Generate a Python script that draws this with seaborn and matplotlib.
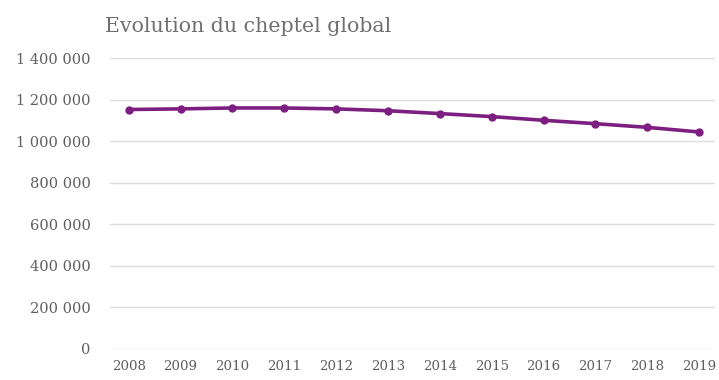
import matplotlib
matplotlib.use("Agg")
import matplotlib.pyplot as plt
import seaborn as sns
import pandas as pd
from matplotlib.ticker import FuncFormatter

years = [2008, 2009, 2010, 2011, 2012, 2013, 2014, 2015, 2016, 2017, 2018, 2019]
cheptel = [1152600, 1155600, 1160000, 1160000, 1155600, 1146700, 1133000,
           1118500, 1100700, 1084400, 1066700, 1044400]
title = "Evolution du cheptel global"

df = pd.DataFrame({"year": years, "cheptel": cheptel})

sns.set_theme(style="white")
plt.rcParams["font.family"] = ["DejaVu Serif", "Liberation Serif"]

fig = plt.figure(figsize=(7.19, 3.8), dpi=100)
ax = fig.add_axes([0.153, 0.0816, 0.841, 0.7655])

sns.lineplot(data=df, x="year", y="cheptel", ax=ax, color="#7d1f80",
             linewidth=2.6, marker="o", markersize=6, markeredgewidth=0)

ax.set_ylim(0, 1400000)
ax.set_xlim(2007.64, 2019.3)
ax.set_yticks(range(0, 1400001, 200000))
ax.yaxis.set_major_formatter(FuncFormatter(lambda v, p: f"{int(v):,}".replace(",", " ")))
ax.set_xticks(years)
ax.set_xticklabels([str(y) for y in years])
ax.grid(axis="y", color="#dcdcdc", linewidth=1)
ax.set_axisbelow(True)
for s in ax.spines.values():
    s.set_visible(False)
ax.tick_params(axis="both", length=0, labelcolor="#5f5f5f")
ax.tick_params(axis="y", pad=14, labelsize=10.5)
ax.tick_params(axis="x", pad=8, labelsize=9.6)
ax.set_xlabel("")
ax.set_ylabel("")
fig.text(0.146, 0.93, title, fontsize=14.8, color="#6f6f6f", ha="left", va="center")

fig.savefig("out.png", dpi=100)
